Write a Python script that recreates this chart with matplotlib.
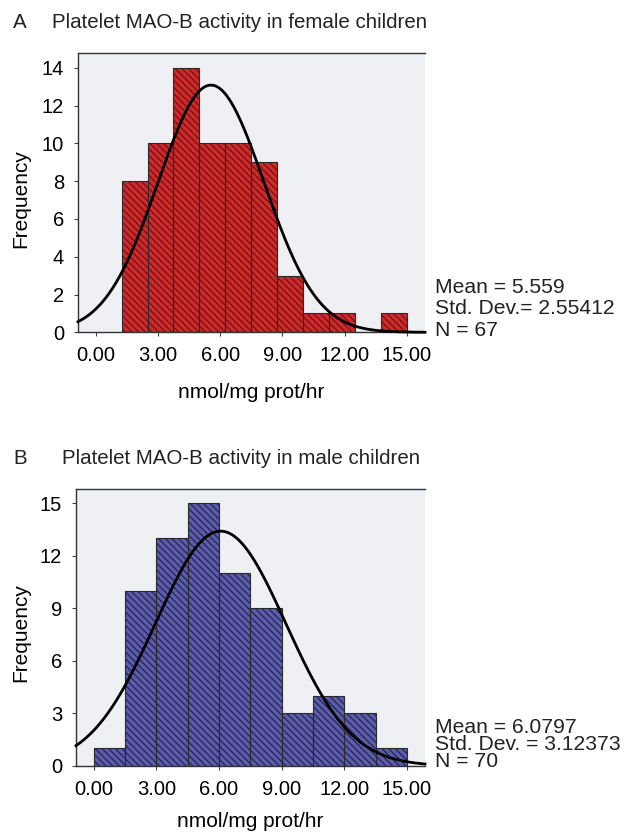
import numpy as np
import matplotlib
matplotlib.use("Agg")
import matplotlib.pyplot as plt

plt.rcParams['font.family'] = ['Liberation Sans', 'DejaVu Sans']
plt.rcParams['hatch.linewidth'] = 0.8

# ---- data ----
female_bin_left = [1.25, 2.50, 3.75, 5.00, 6.25, 7.50, 8.75, 10.00, 11.25, 12.50, 13.75]
female_counts = [8, 10, 14, 10, 10, 9, 3, 1, 1, 0, 1]
female_width = 1.25
female_mean, female_sd, female_n = 5.559, 2.55412, 67

male_bin_left = [0.0, 1.5, 3.0, 4.5, 6.0, 7.5, 9.0, 10.5, 12.0, 13.5]
male_counts = [1, 10, 13, 15, 11, 9, 3, 4, 3, 1]
male_width = 1.5
male_mean, male_sd, male_n = 6.0797, 3.12373, 70

x_ticks = [0, 3, 6, 9, 12, 15]
x_ticklabels = ["0.00", "3.00", "6.00", "9.00", "12.00", "15.00"]
female_yticks = [0, 2, 4, 6, 8, 10, 12, 14]
male_yticks = [0, 3, 6, 9, 12, 15]

fig = plt.figure(figsize=(6.26, 8.32), dpi=100)

TICK_FS = 14.5
LAB_FS = 15
TITLE_FS = 14.8
STAT_FS = 15.2

def panel(rect, lefts, counts, width, mean, sd, n, yticks, ymax, face, hatchc,
          letter, title, title_pos, stats_y, stats_txt, stats_ls, ylab_x, xlabpad):
    ax = fig.add_axes(rect)
    ax.set_facecolor('#eef0f3')
    ax.bar(lefts, counts, width=width, align='edge', color=face,
           edgecolor=hatchc, linewidth=0, hatch='\\\\\\\\\\', zorder=2)
    ax.bar(lefts, counts, width=width, align='edge', fill=False,
           edgecolor='#2a2a2a', linewidth=0.8, zorder=3)
    xmin, xmax = -0.85, 15.87
    xs = np.linspace(xmin, xmax, 400)
    ys = n * width / (sd * np.sqrt(2 * np.pi)) * np.exp(-0.5 * ((xs - mean) / sd) ** 2)
    ax.plot(xs, ys, color='black', linewidth=2.0, zorder=4, clip_on=False)
    ax.set_xlim(xmin, xmax)
    ax.set_ylim(0, ymax)
    ax.set_xticks(x_ticks)
    ax.set_xticklabels(x_ticklabels, fontsize=TICK_FS)
    ax.set_yticks(yticks)
    ax.set_yticklabels([str(v) for v in yticks], fontsize=TICK_FS)
    ax.tick_params(axis='x', length=3, width=0.8, color='#444444', pad=7)
    ax.tick_params(axis='y', length=3, width=0.8, color='#444444', pad=7)
    for s in ['left', 'top', 'bottom']:
        ax.spines[s].set_color('#333333')
        ax.spines[s].set_linewidth(1.0)
    ax.spines['right'].set_visible(False)
    ax.set_xlabel('nmol/mg prot/hr', fontsize=LAB_FS, labelpad=xlabpad)
    ax.set_ylabel('Frequency', fontsize=LAB_FS)
    ax.yaxis.set_label_coords(ylab_x, 0.48)
    fig.text(13 / 626, title_pos[1], letter, fontsize=TITLE_FS, va='center', ha='left', color='#222222')
    fig.text(title_pos[0] / 626, title_pos[1], title, fontsize=TITLE_FS, va='center', ha='left', color='#222222')
    fig.text(435 / 626, stats_y, stats_txt, fontsize=STAT_FS, va='top', ha='left',
             linespacing=stats_ls, color='#222222')
    return ax

panel([78 / 626, 1 - 332.3 / 832, 347 / 626, 279.3 / 832],
      female_bin_left, female_counts, female_width, female_mean, female_sd, female_n,
      female_yticks, 14.78, '#cc2a2c', '#6e0d0d',
      'A', 'Platelet MAO-B activity in female children', (52, 1 - 22 / 832),
      1 - 278 / 832,
      f"Mean = {female_mean}\nStd. Dev.= {female_sd}\nN = {female_n}", 1.16,
      (30 - 78) / 347, 13)

panel([76 / 626, 1 - 765.7 / 832, 349 / 626, 276.7 / 832],
      male_bin_left, male_counts, male_width, male_mean, male_sd, male_n,
      male_yticks, 15.82, '#5c5caa', '#1e1e4a',
      'B', 'Platelet MAO-B activity in male children', (62, 1 - 458 / 832),
      1 - 718 / 832,
      f"Mean = {male_mean}\nStd. Dev. = {male_sd}\nN = {male_n}", 0.88,
      (30 - 76) / 349, 9.5)

fig.savefig('out.png', dpi=100)
